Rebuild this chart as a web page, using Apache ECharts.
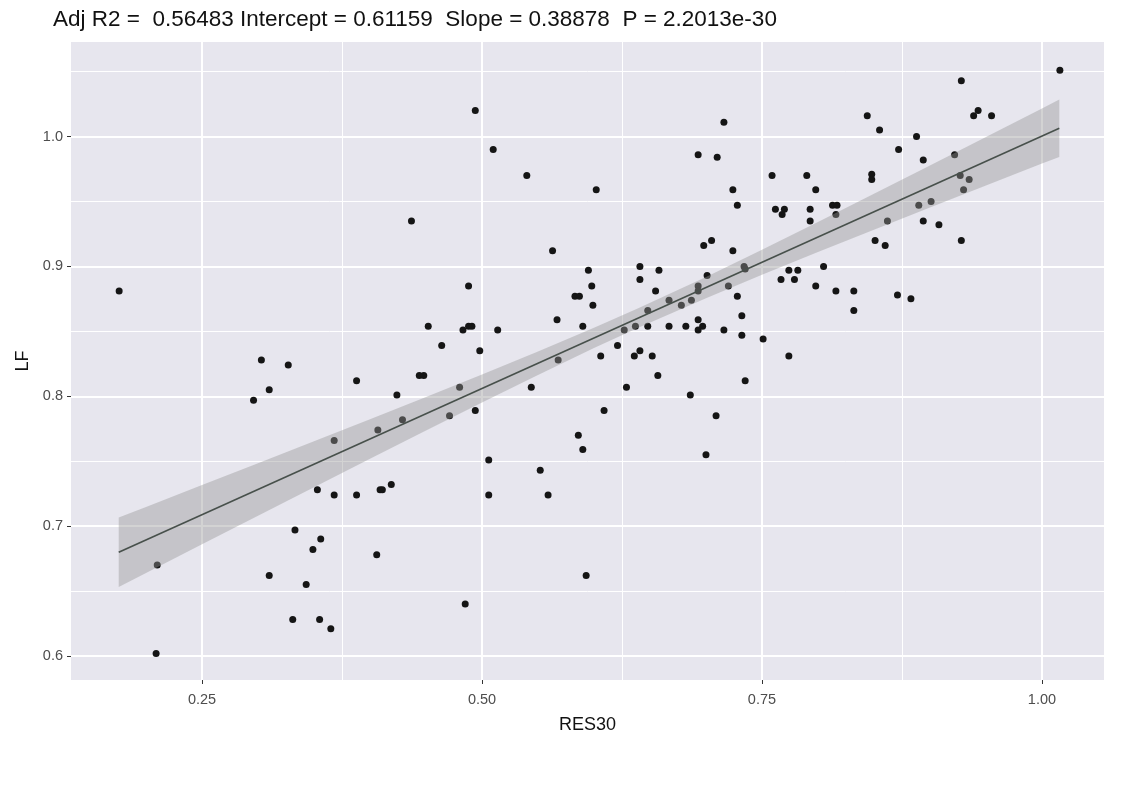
<!DOCTYPE html>
<html>
<head>
<meta charset="utf-8">
<title>LF vs RES30</title>
<script src="https://cdn.jsdelivr.net/npm/echarts@6/dist/echarts.min.js"></script>
<style>
  html, body { margin: 0; padding: 0; background: #fff; }
  #chart { width: 1136px; height: 792px; }
</style>
</head>
<body>
<div id="chart"></div>
<script>
// scatter points
const res30 = [
  0.437, 0.494, 0.716, 0.510, 0.540, 0.602, 0.693, 0.710, 0.724, 0.728, 0.563, 0.698, 0.705, 0.724,
  1.016, 0.928, 0.844, 0.855, 0.943, 0.939, 0.955, 0.888, 0.872, 0.894, 0.922, 0.759, 0.790, 0.798,
  0.848, 0.848, 0.927, 0.935, 0.930, 0.762, 0.770, 0.768, 0.793, 0.793, 0.813, 0.817, 0.816, 0.862,
  0.890, 0.901, 0.894, 0.908, 0.851, 0.860, 0.928,
  0.641, 0.658, 0.595, 0.641, 0.598, 0.488, 0.583, 0.587, 0.655, 0.599, 0.701, 0.693, 0.693, 0.734,
  0.735, 0.720, 0.728, 0.667, 0.678, 0.687, 0.648, 0.567, 0.732, 0.452, 0.483, 0.488, 0.491, 0.514,
  0.590, 0.627, 0.637, 0.648, 0.667, 0.682, 0.693, 0.693, 0.697, 0.716, 0.732, 0.464, 0.498, 0.606,
  0.621, 0.641, 0.636, 0.652, 0.568, 0.444, 0.448, 0.657, 0.735, 0.480, 0.544, 0.629, 0.686, 0.429,
  0.471, 0.494, 0.609, 0.709, 0.586, 0.590, 0.700, 0.506, 0.552,
  0.506, 0.559, 0.593, 0.485,
  0.176, 0.303, 0.327, 0.388, 0.310, 0.296, 0.424, 0.407, 0.368,
  0.353, 0.368, 0.388, 0.409, 0.411, 0.419, 0.333, 0.356, 0.349, 0.406, 0.210, 0.310, 0.343, 0.331,
  0.355, 0.365, 0.209,
  0.774, 0.782, 0.805, 0.767, 0.779, 0.798, 0.816, 0.832, 0.871, 0.883, 0.832, 0.751, 0.774
]
const lf = [
  0.935, 1.020, 1.011, 0.990, 0.970, 0.959, 0.986, 0.984, 0.959, 0.947, 0.912, 0.916, 0.920, 0.912,
  1.051, 1.043, 1.016, 1.005, 1.020, 1.016, 1.016, 1.000, 0.990, 0.982, 0.986, 0.970, 0.970, 0.959,
  0.971, 0.967, 0.970, 0.967, 0.959, 0.944, 0.944, 0.940, 0.944, 0.935, 0.947, 0.947, 0.940, 0.935,
  0.947, 0.950, 0.935, 0.932, 0.920, 0.916, 0.920,
  0.900, 0.897, 0.897, 0.890, 0.885, 0.885, 0.877, 0.877, 0.881, 0.870, 0.893, 0.885, 0.881, 0.900,
  0.898, 0.885, 0.877, 0.874, 0.870, 0.874, 0.866, 0.859, 0.862, 0.854, 0.851, 0.854, 0.854, 0.851,
  0.854, 0.851, 0.854, 0.854, 0.854, 0.854, 0.859, 0.851, 0.854, 0.851, 0.847, 0.839, 0.835, 0.831,
  0.839, 0.835, 0.831, 0.831, 0.828, 0.816, 0.816, 0.816, 0.812, 0.807, 0.807, 0.807, 0.801, 0.782,
  0.785, 0.789, 0.789, 0.785, 0.770, 0.759, 0.755, 0.751, 0.743,
  0.724, 0.724, 0.662, 0.640,
  0.881, 0.828, 0.824, 0.812, 0.805, 0.797, 0.801, 0.774, 0.766,
  0.728, 0.724, 0.724, 0.728, 0.728, 0.732, 0.697, 0.690, 0.682, 0.678, 0.670, 0.662, 0.655, 0.628,
  0.628, 0.621, 0.602,
  0.897, 0.897, 0.900, 0.890, 0.890, 0.885, 0.881, 0.881, 0.878, 0.875, 0.866, 0.844, 0.831
]

// fitted line and its confidence band (edges)
const fitX = [0.1756, 1.0155]
const fitY = [0.6799, 1.0064]
const bandX = [0.1756, 0.2, 0.25, 0.3, 0.35, 0.4, 0.45, 0.5, 0.55, 0.6, 0.64, 0.7, 0.75, 0.8, 0.85, 0.9, 0.95, 1.0, 1.0155]
const bandLo = [0.6532, 0.6639, 0.6860, 0.7080, 0.7300, 0.7519, 0.7736, 0.7952, 0.8164, 0.8371, 0.8529, 0.8755, 0.8936, 0.9110, 0.9283, 0.9453, 0.9622, 0.9792, 0.9843]
const bandHi = [0.7066, 0.7147, 0.7316, 0.7484, 0.7654, 0.7823, 0.7994, 0.8168, 0.8344, 0.8527, 0.8679, 0.8919, 0.9128, 0.9342, 0.9559, 0.9777, 0.9996, 1.0216, 1.0285]

// axis ticks
const xTicks = [0.25, 0.50, 0.75, 1.00]
const xMinor = [0.375, 0.625, 0.875]
const yTicks = [0.6, 0.7, 0.8, 0.9, 1.0]
const yMinor = [0.65, 0.75, 0.85, 0.95, 1.05]

const titleText = 'Adj R2 =  0.56483 Intercept = 0.61159  Slope = 0.38878  P = 2.2013e-30'

const xMin = 0.133, xMax = 1.0554
const yMin = 0.5815, yMax = 1.0728
const font = 'Liberation Sans, Arial, sans-serif'

const chart = echarts.init(document.getElementById('chart'), null, { renderer: 'canvas' })

const hidden = { show: false }
// second axis pair only draws the thin minor grid lines
const minorAxis = (min, max, vals) => ({
  type: 'value',
  min: min,
  max: max,
  axisLine: hidden,
  axisLabel: hidden,
  axisTick: { show: false, customValues: vals },
  splitLine: { show: true, lineStyle: { color: '#ffffff', width: 1 } }
})

chart.setOption({
  animation: false,
  backgroundColor: '#ffffff',
  title: {
    text: titleText,
    left: 48,
    top: 3,
    textStyle: { fontFamily: font, fontSize: 22.5, fontWeight: 'normal', color: '#111' }
  },
  grid: {
    left: 71,
    right: 32,
    top: 42,
    bottom: 112,
    show: true,
    backgroundColor: '#e7e6ee',
    borderWidth: 0
  },
  xAxis: [
    {
      type: 'value',
      min: xMin,
      max: xMax,
      name: 'RES30',
      nameLocation: 'middle',
      nameGap: 36,
      nameTextStyle: { fontFamily: font, fontSize: 18, color: '#111' },
      axisLine: hidden,
      axisTick: { show: true, length: 4, customValues: xTicks, lineStyle: { color: '#333' } },
      axisLabel: {
        customValues: xTicks,
        margin: 12,
        fontFamily: font,
        fontSize: 14.5,
        color: '#4d4d4d',
        formatter: v => v.toFixed(2)
      },
      splitLine: { show: true, lineStyle: { color: '#ffffff', width: 2 } }
    },
    minorAxis(xMin, xMax, xMinor)
  ],
  yAxis: [
    {
      type: 'value',
      min: yMin,
      max: yMax,
      name: 'LF',
      nameLocation: 'middle',
      nameGap: 37,
      nameRotate: 90,
      nameTextStyle: { fontFamily: font, fontSize: 18, color: '#111' },
      axisLine: hidden,
      axisTick: { show: true, length: 4, customValues: yTicks, lineStyle: { color: '#333' } },
      axisLabel: {
        customValues: yTicks,
        margin: 8,
        fontFamily: font,
        fontSize: 14.5,
        color: '#4d4d4d',
        formatter: v => v.toFixed(1)
      },
      splitLine: { show: true, lineStyle: { color: '#ffffff', width: 2 } }
    },
    minorAxis(yMin, yMax, yMinor)
  ],
  series: [
    {
      name: 'points',
      type: 'scatter',
      xAxisIndex: 0,
      yAxisIndex: 0,
      symbolSize: 7,
      itemStyle: { color: '#151515', opacity: 1 },
      data: res30.map((x, i) => [x, lf[i]]),
      z: 3
    },
    {
      // confidence band as one polygon placed through the axes
      name: 'band',
      type: 'custom',
      xAxisIndex: 0,
      yAxisIndex: 0,
      data: [[bandX[0], bandLo[0]]],
      renderItem: function(params, api) {
        const top = bandX.map((x, i) => api.coord([x, bandHi[i]]))
        const bottom = bandX.map((x, i) => api.coord([x, bandLo[i]])).reverse()
        return {
          type: 'polygon',
          shape: { points: top.concat(bottom) },
          style: { fill: 'rgba(150,150,150,0.42)' }
        }
      },
      z: 4
    },
    {
      name: 'fit',
      type: 'line',
      xAxisIndex: 0,
      yAxisIndex: 0,
      symbol: 'none',
      lineStyle: { color: '#47504b', width: 1.6 },
      data: fitX.map((x, i) => [x, fitY[i]]),
      z: 5
    }
  ]
})
</script>
</body>
</html>
